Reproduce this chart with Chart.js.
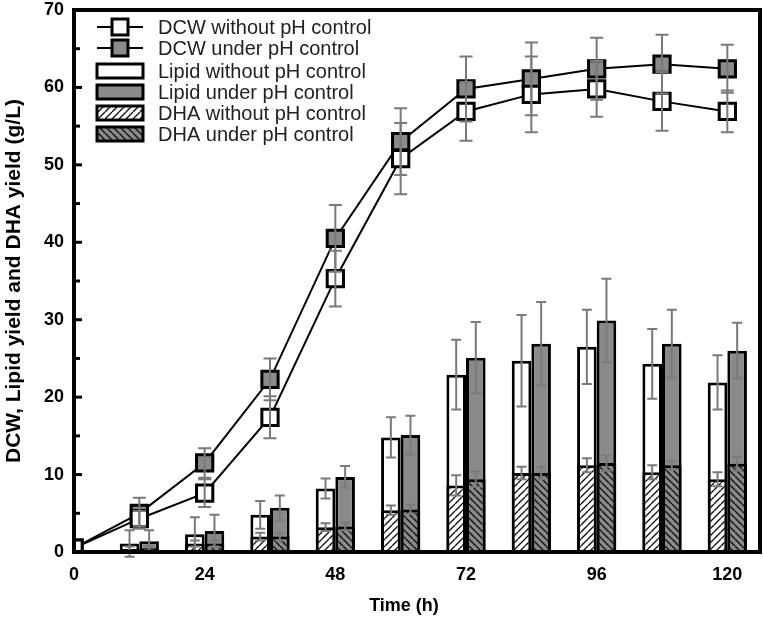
<!DOCTYPE html>
<html lang="en">
<head>
<meta charset="UTF-8">
<title>DCW, lipid and DHA yield</title>
<script src="https://cdn.jsdelivr.net/npm/chart.js"></script>
<style>
  html, body { margin: 0; padding: 0; background: #fff; }
  #wrap { width: 764px; height: 624px; }
</style>
</head>
<body>
<div id="wrap"><canvas id="chart" width="764" height="624"></canvas></div>
<script>
// line series (DCW), sampled every 12 h
const time = [0, 12, 24, 36, 48, 60, 72, 84, 96, 108, 120];
const dcwWithout = [0.5, 4.3, 7.6, 17.4, 35.3, 50.8, 56.9, 59.1, 59.8, 58.2, 56.9];
const dcwWithoutErr = [0, 1.0, 1.8, 2.7, 3.6, 4.6, 3.8, 4.9, 3.6, 3.8, 2.7];
const dcwUnder = [0.5, 5.0, 11.5, 22.3, 40.5, 53.0, 59.8, 61.1, 62.4, 63.0, 62.4];
const dcwUnderErr = [0, 2.0, 1.9, 2.7, 4.3, 4.3, 4.2, 4.7, 4.0, 3.8, 3.1];

// bar series (lipid, DHA)
const barTime = [12, 24, 36, 48, 60, 72, 84, 96, 108, 120];
const lipidWithout = [1.1, 2.3, 4.8, 8.2, 14.8, 22.9, 24.7, 26.5, 24.3, 21.9];
const lipidWithoutErr = [1.7, 2.2, 1.8, 1.3, 2.6, 4.5, 5.9, 4.8, 4.5, 3.5];
const lipidUnder = [1.4, 2.7, 5.7, 9.7, 15.1, 25.1, 26.9, 29.9, 26.9, 26.0];
const lipidUnderErr = [1.4, 2.1, 1.6, 1.4, 2.5, 4.6, 5.4, 5.4, 4.4, 3.6];
const dhaWithout = [0.4, 1.1, 2.0, 3.2, 5.4, 8.6, 10.2, 11.2, 10.3, 9.4];
const dhaWithoutErr = [0.3, 0.4, 0.5, 0.5, 0.6, 1.3, 0.8, 0.9, 0.9, 0.9];
const dhaUnder = [0.5, 1.1, 2.0, 3.3, 5.5, 9.4, 10.2, 11.5, 11.2, 11.4];
const dhaUnderErr = [0.3, 0.4, 0.5, 0.5, 0.6, 1.0, 0.8, 1.0, 0.6, 0.9];

const FONT = "'Liberation Sans', Arial, Helvetica, sans-serif";
const GRAY = '#8a8a8a';
const ERR = '#7a7a7a';

function hatch(bg, up) {
  const s = 7;
  const c = document.createElement('canvas');
  c.width = s; c.height = s;
  const g = c.getContext('2d');
  g.fillStyle = bg;
  g.fillRect(0, 0, s, s);
  g.strokeStyle = '#111';
  g.lineWidth = 1.4;
  g.beginPath();
  for (const o of [-s, 0, s]) {
    if (up) { g.moveTo(o, s); g.lineTo(o + s, 0); }
    else { g.moveTo(o, 0); g.lineTo(o + s, s); }
  }
  g.stroke();
  return g.createPattern(c, 'repeat');
}

const pts = (xs, ys) => xs.map((x, i) => ({ x, y: ys[i] }));

const lineStyle = (fill) => ({
  type: 'line',
  borderColor: '#000',
  borderWidth: 2,
  pointStyle: 'rect',
  pointRadius: 11.5,
  pointBorderWidth: 3,
  pointBorderColor: '#000',
  pointBackgroundColor: fill,
  pointHoverRadius: 11.5,
  order: 0
});

const barStyle = (fill, stack, order) => ({
  type: 'bar',
  backgroundColor: fill,
  borderColor: '#000',
  borderWidth: 3,
  stack,
  order,
  barPercentage: 1,
  categoryPercentage: 0.6
});

const datasets = [
  { label: 'DCW without pH control', data: pts(time, dcwWithout), errors: dcwWithoutErr, ...lineStyle('#fff') },
  { label: 'DCW under pH control', data: pts(time, dcwUnder), errors: dcwUnderErr, ...lineStyle(GRAY) },
  { label: 'Lipid without pH control', data: pts(barTime, lipidWithout), errors: lipidWithoutErr, ...barStyle('#fff', 'without', 2) },
  { label: 'Lipid under pH control', data: pts(barTime, lipidUnder), errors: lipidUnderErr, ...barStyle(GRAY, 'under', 2) },
  { label: 'DHA without pH control', data: pts(barTime, dhaWithout), errors: dhaWithoutErr, ...barStyle(hatch('#fff', true), 'without', 1) },
  { label: 'DHA under pH control', data: pts(barTime, dhaUnder), errors: dhaUnderErr, ...barStyle(hatch(GRAY, false), 'under', 1) }
];

// error bars, frame, inner ticks, x title and legend
const decor = {
  id: 'decor',
  afterDatasetsDraw(chart) {
    const { ctx, scales: { y } } = chart;
    ctx.save();
    ctx.strokeStyle = ERR;
    ctx.lineWidth = 2;
    chart.data.datasets.forEach((ds, di) => {
      const meta = chart.getDatasetMeta(di);
      const cap = ds.type === 'line' ? 6.5 : 5;
      ds.data.forEach((p, i) => {
        const e = ds.errors[i];
        if (!e) return;
        const x = meta.data[i].x;
        const y1 = y.getPixelForValue(p.y - e);
        const y2 = y.getPixelForValue(p.y + e);
        ctx.beginPath();
        ctx.moveTo(x, y1); ctx.lineTo(x, y2);
        ctx.moveTo(x - cap, y1); ctx.lineTo(x + cap, y1);
        ctx.moveTo(x - cap, y2); ctx.lineTo(x + cap, y2);
        ctx.stroke();
      });
    });
    ctx.restore();
  },
  afterDraw(chart) {
    const { ctx, chartArea: a, scales: { y } } = chart;
    ctx.save();
    // frame
    ctx.strokeStyle = '#000';
    ctx.lineWidth = 4;
    ctx.strokeRect(a.left, a.top, a.right - a.left, a.bottom - a.top);
    // inward y ticks
    ctx.lineWidth = 3;
    for (let v = 5; v < 70; v += 5) {
      const py = y.getPixelForValue(v);
      ctx.beginPath();
      ctx.moveTo(a.left, py);
      ctx.lineTo(a.left + (v % 10 === 0 ? 8 : 6), py);
      ctx.stroke();
    }
    // x title
    ctx.fillStyle = '#000';
    ctx.font = 'bold 18px ' + FONT;
    ctx.textAlign = 'center';
    ctx.textBaseline = 'middle';
    ctx.fillText('Time (h)', 404, 606);

    // legend
    const lx = 97, lw = 46, tx = 158, row0 = 27, gap = 21;
    ctx.font = '20px ' + FONT;
    ctx.textAlign = 'left';
    chart.data.datasets.forEach((ds, i) => {
      const cy = row0 + i * gap + (i >= 2 ? 2 : 0);
      if (ds.type === 'line') {
        ctx.strokeStyle = '#000';
        ctx.lineWidth = 2;
        ctx.beginPath(); ctx.moveTo(lx, cy); ctx.lineTo(lx + lw, cy); ctx.stroke();
        ctx.fillStyle = ds.pointBackgroundColor;
        ctx.fillRect(lx + lw / 2 - 8, cy - 8, 16, 16);
        ctx.lineWidth = 3;
        ctx.strokeRect(lx + lw / 2 - 8, cy - 8, 16, 16);
      } else {
        ctx.fillStyle = ds.backgroundColor;
        ctx.fillRect(lx, cy - 7, lw, 14);
        ctx.strokeStyle = '#000';
        ctx.lineWidth = 3;
        ctx.strokeRect(lx, cy - 7, lw, 14);
      }
      ctx.fillStyle = '#222';
      ctx.fillText(ds.label, tx, cy + 1);
    });
    ctx.restore();
  }
};

new Chart(document.getElementById('chart'), {
  data: { datasets },
  options: {
    responsive: false,
    animation: false,
    layout: { autoPadding: false, padding: { top: 10, right: 4, left: 0, bottom: 0 } },
    plugins: { legend: { display: false }, tooltip: { enabled: false } },
    scales: {
      x: {
        type: 'linear',
        min: 0,
        max: 126,
        stacked: true,
        offset: false,
        grid: { display: false, drawTicks: false },
        border: { display: false },
        ticks: {
          stepSize: 24,
          includeBounds: false,
          padding: 12,
          color: '#000',
          font: { family: FONT, size: 18, weight: 'bold' }
        },
        afterFit(scale) {
          scale.height = 72;
          scale.paddingLeft = 0;
          scale.paddingRight = 0;
        }
      },
      y: {
        min: 0,
        max: 70,
        stacked: false,
        grid: { display: false, drawTicks: false },
        border: { display: false },
        ticks: {
          stepSize: 10,
          padding: 10,
          color: '#000',
          font: { family: FONT, size: 18, weight: 'bold' }
        },
        title: {
          display: true,
          text: 'DCW, Lipid yield and DHA yield (g/L)',
          color: '#000',
          font: { family: FONT, size: 21, weight: 'bold' },
          padding: { top: 2, bottom: 0 }
        },
        afterFit(scale) {
          scale.width = 74;
          scale.paddingTop = 0;
          scale.paddingBottom = 0;
        }
      }
    }
  },
  plugins: [decor]
});
</script>
</body>
</html>
